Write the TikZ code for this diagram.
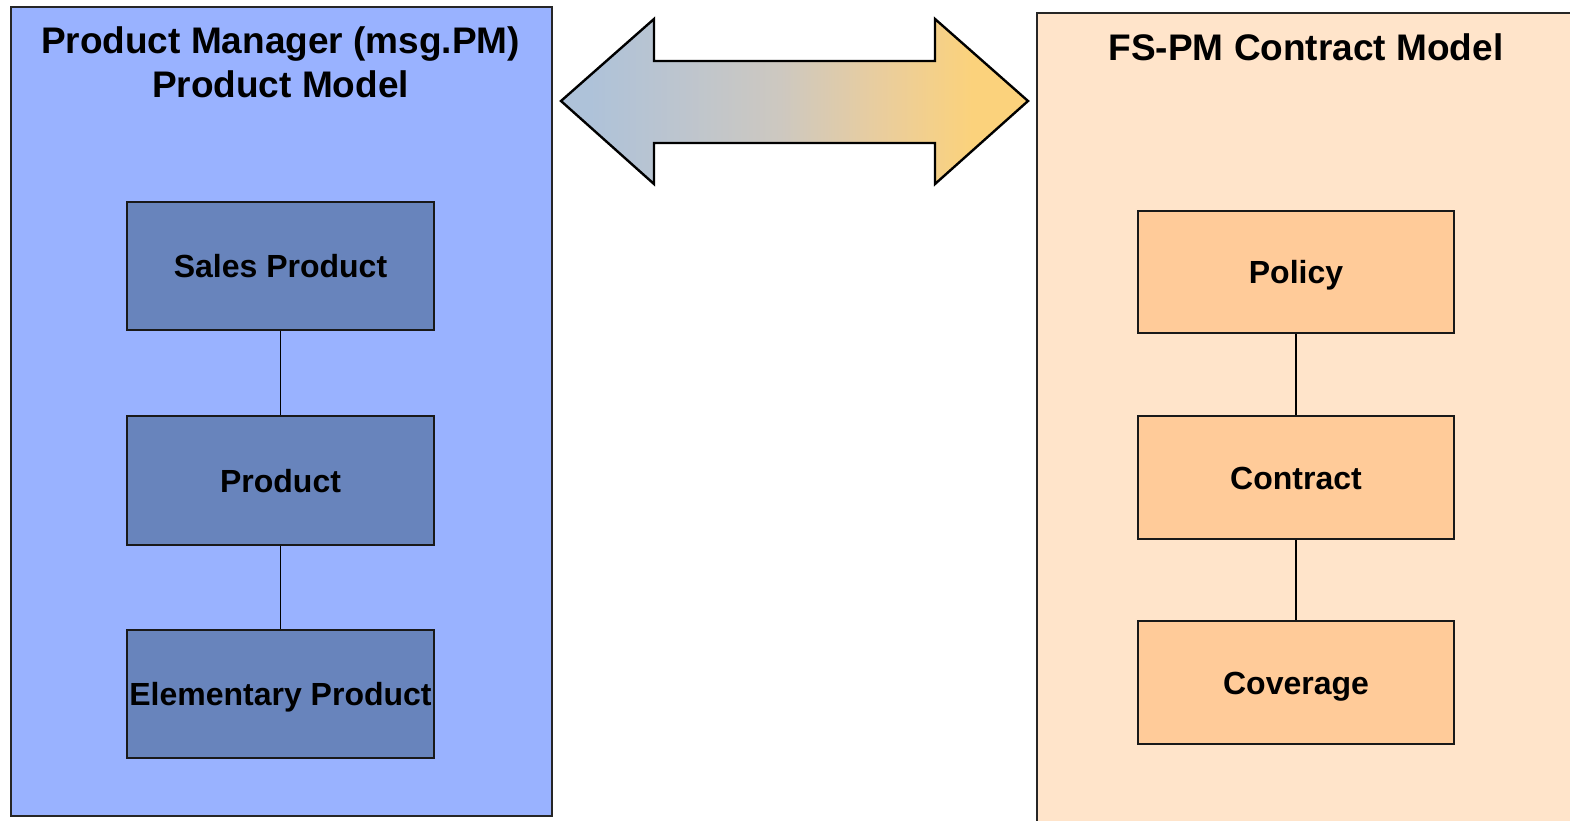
\documentclass[tikz,border=0pt]{standalone}
\usepackage{fontspec}
\setmainfont{Liberation Sans}
\definecolor{outerblue}{RGB}{153,178,255}
\definecolor{innerblue}{RGB}{104,132,188}
\definecolor{outerorange}{RGB}{255,228,202}
\definecolor{innerorange}{RGB}{255,203,153}
\definecolor{arrowleft}{RGB}{174,194,217}
\definecolor{arrowlm}{RGB}{189,197,206}
\definecolor{arrowmid}{RGB}{205,200,192}
\definecolor{arrowrm}{RGB}{233,205,158}
\definecolor{arrowright}{RGB}{251,210,124}
\pgfdeclarehorizontalshading{arrowshade}{100bp}{color(0bp)=(arrowleft); color(28bp)=(arrowleft); color(38bp)=(arrowlm); color(48.5bp)=(arrowmid); color(59bp)=(arrowrm); color(69bp)=(arrowright); color(100bp)=(arrowright)}
\begin{document}
\begin{tikzpicture}[x=1pt,y=-1pt,
  outerbox/.style={draw=black!85, line width=1.6pt, inner sep=0pt, anchor=north west},
  innerbox/.style={draw=black!90, line width=1.6pt, inner sep=0pt, text height=23pt, text depth=0pt, font=\fontsize{32}{38}\selectfont\bfseries},
  titletext/.style={inner sep=0pt, align=center, font=\fontsize{37}{44}\selectfont\bfseries},
  link/.style={draw=black, line width=1.6pt}]
\useasboundingbox (0,0) rectangle (1570,821);
\clip (0,0) rectangle (1570,821);
\fill[white] (0,0) rectangle (1570,821);
% containers
\node[outerbox, fill=outerblue, minimum width=541pt, minimum height=809pt] (pm) at (10,6) {};
\node[outerbox, fill=outerorange, minimum width=560pt, minimum height=830pt] (fs) at (1036,12) {};
% titles
\node[titletext] (pmtitle) at (280.5,62) {Product Manager (msg.PM)\\Product Model};
\node[titletext] (fstitle) at (1306,47) {FS-PM Contract Model};
% left inner boxes
\node[innerbox, fill=innerblue, minimum width=307pt, minimum height=128pt] (sales) at (280.5,266) {Sales Product};
\node[innerbox, fill=innerblue, minimum width=307pt, minimum height=129pt] (product) at (280.5,480.5) {Product};
\node[innerbox, fill=innerblue, minimum width=307pt, minimum height=128pt] (elem) at (280.5,694) {Elementary Product};
% right inner boxes
\node[innerbox, fill=innerorange, minimum width=316pt, minimum height=122pt] (policy) at (1296,272) {Policy};
\node[innerbox, fill=innerorange, minimum width=316pt, minimum height=123pt] (contract) at (1296,477.5) {Contract};
\node[innerbox, fill=innerorange, minimum width=316pt, minimum height=123pt] (coverage) at (1296,682.5) {Coverage};
% connectors
\draw[link] (sales.south) -- (product.north);
\draw[link] (product.south) -- (elem.north);
\draw[link] (policy.south) -- (contract.north);
\draw[link] (contract.south) -- (coverage.north);
% double arrow
\shade[shading=arrowshade]
  (561,101) -- (654,19) -- (654,61) -- (935,61) -- (935,19) -- (1028,101)
  -- (935,184) -- (935,143) -- (654,143) -- (654,184) -- cycle;
\draw[line width=2.4pt, line join=miter]
  (561,101) -- (654,19) -- (654,61) -- (935,61) -- (935,19) -- (1028,101)
  -- (935,184) -- (935,143) -- (654,143) -- (654,184) -- cycle;
\end{tikzpicture}
\end{document}
